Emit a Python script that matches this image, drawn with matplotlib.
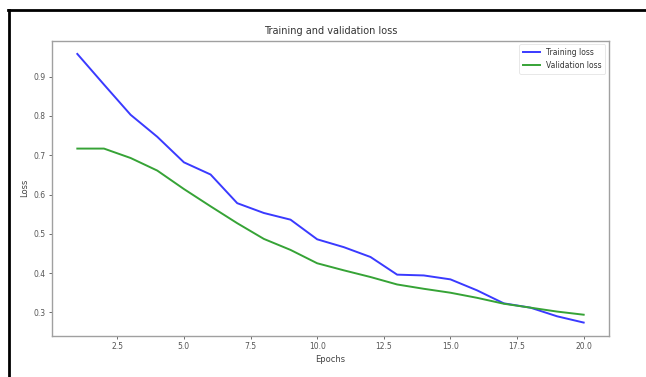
import matplotlib
matplotlib.use("Agg")
import matplotlib.pyplot as plt
from matplotlib.lines import Line2D

epochs = list(range(1, 21))
training_loss = [0.958, 0.880, 0.803, 0.747, 0.682, 0.651, 0.578, 0.553, 0.536, 0.486,
                 0.466, 0.441, 0.396, 0.394, 0.384, 0.356, 0.323, 0.312, 0.290, 0.274]
validation_loss = [0.717, 0.717, 0.693, 0.661, 0.614, 0.570, 0.527, 0.487, 0.459, 0.425,
                   0.407, 0.390, 0.371, 0.360, 0.350, 0.337, 0.322, 0.312, 0.302, 0.294]
series_labels = ["Training loss", "Validation loss"]
title = "Training and validation loss"
xlabel = "Epochs"
ylabel = "Loss"

plt.rcParams['font.family'] = ['DejaVu Sans']
fig = plt.figure(figsize=(6.46, 3.77), dpi=100)
W, H = 646, 377
ax = fig.add_axes([52 / W, 1 - 336 / H, (609 - 52) / W, (336 - 40.5) / H])

ax.plot(epochs, training_loss, color='#3a3aff', lw=1.4, label=series_labels[0])
ax.plot(epochs, validation_loss, color='#36a336', lw=1.4, label=series_labels[1])

ax.set_title(title, fontsize=7, color='#333333', pad=5)
ax.set_xlabel(xlabel, fontsize=6, color='#444444', labelpad=3)
ax.set_ylabel(ylabel, fontsize=6, color='#444444', labelpad=3)
ax.tick_params(labelsize=5.5, colors='#555555', length=2.5, width=0.6, pad=2)
for s in ax.spines.values():
    s.set_color('#a0a0a0')
    s.set_linewidth(1.0)

leg = ax.legend(loc='upper right', fontsize=5.5, frameon=True, fancybox=True,
                handlelength=2.2, borderpad=0.5, labelspacing=0.5)
leg.get_frame().set_edgecolor('#dddddd')
leg.get_frame().set_linewidth(0.6)
for t in leg.get_texts():
    t.set_color('#333333')

# screenshot frame (black border on top and left)
fig.add_artist(Line2D([8 / W, 1.0], [1 - 10 / H, 1 - 10 / H], transform=fig.transFigure,
                      color='black', lw=2.0))
fig.add_artist(Line2D([9 / W, 9 / W], [0.0, 1 - 10 / H], transform=fig.transFigure,
                      color='black', lw=2.0))

fig.savefig("out.png", dpi=100)
